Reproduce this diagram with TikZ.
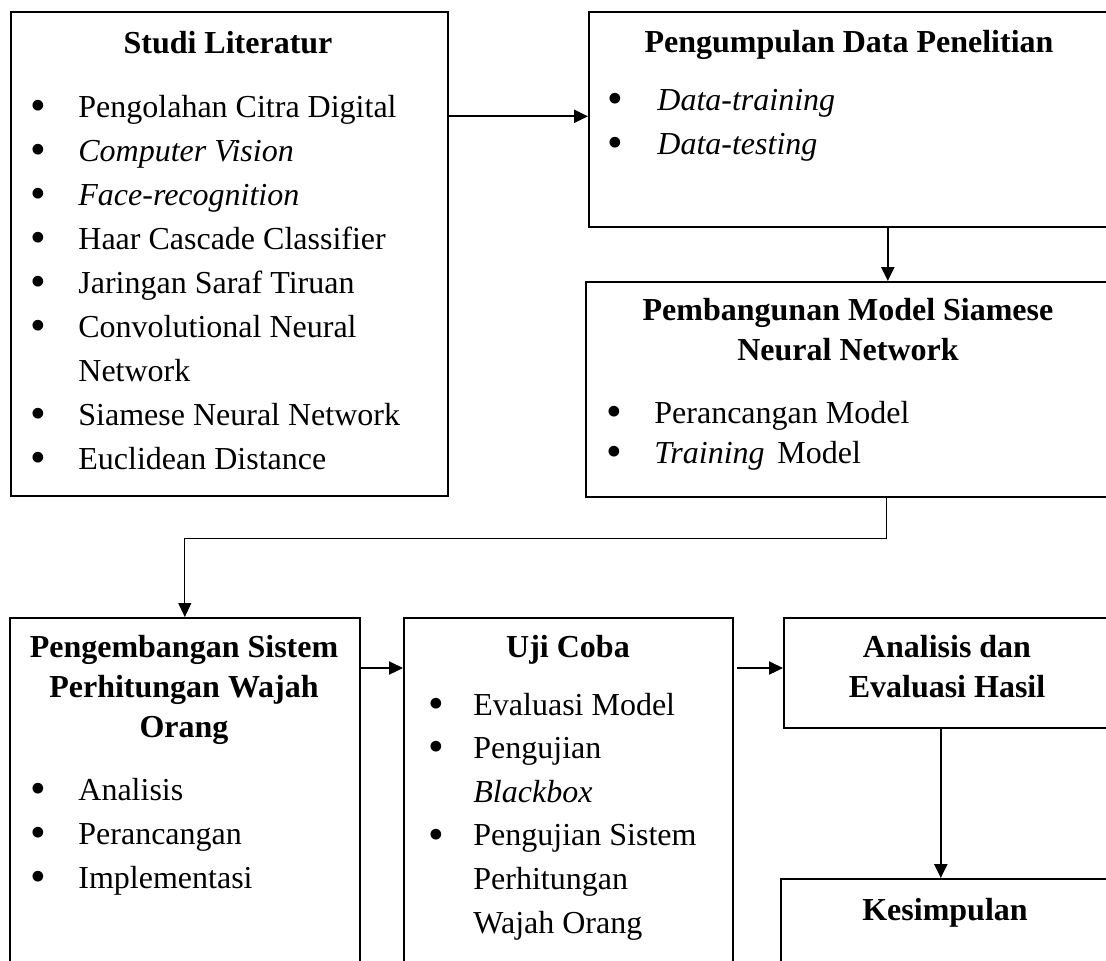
\documentclass[tikz,border=0pt]{standalone}
\usepackage{fontspec}
\setmainfont{Liberation Serif}
\usetikzlibrary{arrows.meta}
\newcommand{\bul}{\raisebox{-0.1em}{\scalebox{1.4}{\textbullet}}}
\newcommand{\blist}[2]{\begin{tabular}[t]{@{}p{#1}@{}l@{}}#2\end{tabular}}
\newcommand{\btitle}[1]{\begin{tabular}[t]{@{}c@{}}#1\end{tabular}}

\begin{document}
\begin{tikzpicture}[x=0.5pt,y=-0.5pt,>={Triangle[length=7pt,width=6.5pt]},
    box/.style={draw,line width=0.8pt,anchor=north west,inner sep=0pt},
    title/.style={anchor=base,inner sep=0pt,font=\fontsize{16}{20}\selectfont\bfseries},
    list/.style={anchor=base west,inner sep=0pt,font=\fontsize{16}{22}\selectfont},
    flow/.style={->,line width=1.1pt}]
  \useasboundingbox (0,0) rectangle (1106,960);
  \clip (0,0) rectangle (1106,960);
  \begin{scope}
    % boxes
    \node[box,minimum width=218.5pt,minimum height=242pt] (lit) at (10,11) {};
    \node[box,minimum width=261.5pt,minimum height=107.5pt] (data) at (588,11) {};
    \node[box,minimum width=263pt,minimum height=107.5pt] (model) at (585,281) {};
    \node[box,minimum width=175pt,minimum height=200pt] (sys) at (9,617) {};
    \node[box,minimum width=164.5pt,minimum height=200pt] (uji) at (403,617) {};
    \node[box,minimum width=164pt,minimum height=55pt] (hasil) at (783,617) {};
    \node[box,minimum width=165.5pt,minimum height=100pt] (kes) at (780,878) {};

    \node[title] (litT) at (228,53) {\btitle{Studi Literatur}};
    \node[list] (litL) at (30,117) {\blist{24pt}{\bul & Pengolahan Citra Digital\\
        \bul & \textit{Computer Vision}\\
        \bul & \textit{Face-recognition}\\
        \bul & Haar Cascade Classifier\\
        \bul & Jaringan Saraf Tiruan\\
        \bul & Convolutional Neural\\
             & Network\\
        \bul & Siamese Neural Network\\
        \bul & Euclidean Distance}};

    \node[title] (dataT) at (849,52) {\btitle{Pengumpulan Data Penelitian}};
    \node[list] (dataL) at (607,110) {\blist{25pt}{\bul & \textit{Data-training}\\
        \bul & \textit{Data-testing}}};

    \node[title] (modelT) at (848,320) {\btitle{Pembangunan Model Siamese\\ Neural Network}};
    \node[list,font=\fontsize{16}{20}\selectfont] (modelL) at (606,423) {\blist{24pt}{\bul & Perancangan Model\\
        \bul & \textit{Training}\hspace{0.4em}Model}};

    \node[title] (sysT) at (184,657) {\btitle{Pengembangan Sistem\\ Perhitungan Wajah\\ Orang}};
    \node[list] (sysL) at (30,800) {\blist{24pt}{\bul & Analisis\\
        \bul & Perancangan\\
        \bul & Implementasi}};

    \node[title] (ujiT) at (568,657) {\btitle{Uji Coba}};
    \node[list,font=\fontsize{16}{21.8}\selectfont] (ujiL) at (428,715) {\blist{22.5pt}{\bul & Evaluasi Model\\
        \bul & Pengujian\\
             & \textit{Blackbox}\\
        \bul & Pengujian Sistem\\
             & Perhitungan\\
             & Wajah Orang}};

    \node[title] (hasilT) at (947,657) {\btitle{Analisis dan\\ Evaluasi Hasil}};
    \node[title] (kesT) at (945,920) {\btitle{Kesimpulan}};

    % connectors
    \draw[flow] ([yshift=1.5pt]lit.east |- data.west) -- ([yshift=1.5pt]data.west);
    \draw[flow] ([xshift=18.75pt]data.south) -- ([xshift=18.75pt]data.south |- model.north);
    \draw[flow,line width=0.5pt] ([xshift=19pt]model.south) -- ++(0,41) -| (sys.north);
    \draw[flow] ([yshift=-25.5pt]sys.north east) -- ([yshift=-25.5pt]uji.north west);
    \draw[flow,shorten <=1.5pt] ([yshift=-25.5pt]uji.north east) -- ([yshift=-25.5pt]hasil.north west);
    \draw[flow] ([xshift=-3.5pt]hasil.south) -- ([xshift=-3.5pt]hasil.south |- kes.north);
  \end{scope}
\end{tikzpicture}
\end{document}
